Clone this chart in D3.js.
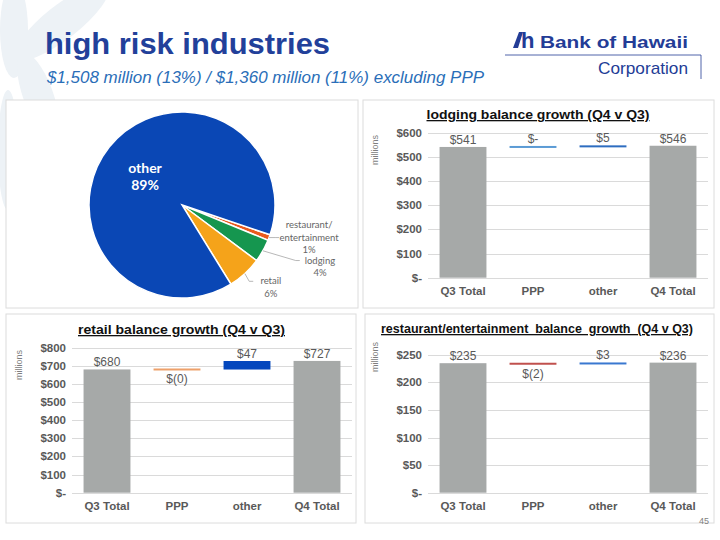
<!DOCTYPE html>
<html>
<head>
<meta charset="utf-8">
<script src="https://cdn.jsdelivr.net/npm/d3@7"></script>
<style>
  body { margin: 0; background: #fff; }
  svg { display: block; font-family: "Liberation Sans", Arial, sans-serif; }
</style>
</head>
<body>
<svg id="chart" width="720" height="540"></svg>
<script>
// pie: share of total loans
const pieNames = ['restaurant/entertainment', 'lodging', 'retail', 'other']
const piePct = [1, 4, 6, 89]
const pieColors = ['#EA5A1E', '#15964F', '#F5A31A', '#0A47B5']

// waterfalls ($ millions)
const wfCats = ['Q3 Total', 'PPP', 'other', 'Q4 Total']
const lodgingVals = [541, 0, 5, 546]
const retailVals = [680, -0.4, 47, 727]
const restVals = [235, -2, 3, 236]
const lodgingTicks = [0, 100, 200, 300, 400, 500, 600]
const retailTicks = [0, 100, 200, 300, 400, 500, 600, 700, 800]
const restTicks = [0, 50, 100, 150, 200, 250]

const svg = d3.select('#chart')
const ink = '#595959'

// watermark flower, top left
const petals = [[62, 22, 58, 17, -38], [14, 30, 14, 48, 0], [38, 95, 15, 45, -20], [8, 150, 10, 60, 0]]
svg.selectAll('.petal').data(petals).enter().append('ellipse')
  .attr('cx', d => d[0]).attr('cy', d => d[1])
  .attr('rx', d => d[2]).attr('ry', d => d[3])
  .attr('transform', d => `rotate(${d[4]},${d[0]},${d[1]})`)
  .attr('fill', '#EDF2F6')

// header
svg.append('text').attr('x', 45).attr('y', 54)
  .attr('font-size', 29).attr('font-weight', 'bold').attr('fill', '#22409A')
  .attr('textLength', 285).attr('lengthAdjust', 'spacingAndGlyphs')
  .text('high risk industries')
svg.append('text').attr('x', 47).attr('y', 83)
  .attr('font-size', 16.5).attr('font-style', 'italic').attr('fill', '#2A6EB8')
  .attr('textLength', 437).attr('lengthAdjust', 'spacingAndGlyphs')
  .text('$1,508 million (13%) / $1,360 million (11%) excluding PPP')

// logo
const logo = svg.append('g').attr('fill', '#233C96')
logo.append('path').attr('d', 'M513,48 L518,48 L523,32 L519,32 Z')
logo.append('text').attr('x', 521).attr('y', 48).attr('font-size', 22).attr('font-weight', 'bold').text('h')
logo.append('text').attr('x', 540).attr('y', 48).attr('font-size', 17).attr('font-weight', 'bold')
  .attr('textLength', 148).attr('lengthAdjust', 'spacingAndGlyphs').text('Bank of Hawaii')
logo.append('text').attr('x', 598).attr('y', 74).attr('font-size', 17)
  .attr('textLength', 90).attr('lengthAdjust', 'spacingAndGlyphs').text('Corporation')
logo.append('path').attr('d', 'M505,55 H701 V79').attr('fill', 'none').attr('stroke', '#233C96').attr('stroke-width', 0.8)

// panels
const panels = [[6, 100, 352, 208], [363, 100, 351, 208], [6, 314, 350, 209], [365, 314, 349, 209]]
svg.selectAll('.panel').data(panels).enter().append('rect')
  .attr('x', d => d[0]).attr('y', d => d[1]).attr('width', d => d[2]).attr('height', d => d[3])
  .attr('fill', '#fff').attr('stroke', '#DCDCDC')

// ---- pie ----
const cx = 182, cy = 205, r = 93
const deg = Math.PI / 180
const pie = d3.pie().sort(null).startAngle(108.7 * deg).endAngle(108.7 * deg + 2 * Math.PI)
const arcs = pie(piePct)
const arc = d3.arc().innerRadius(0).outerRadius(r)
const pg = svg.append('g').attr('transform', `translate(${cx},${cy})`)
pg.selectAll('path').data(arcs).enter().append('path')
  .attr('d', arc).attr('fill', (d, i) => pieColors[i])
  .attr('stroke', '#fff').attr('stroke-width', 1.5)

// label layout for the small slices: [dx, dy] of label from the edge point
const labelNudge = [[40, 0], [57, 16], [26, 14]]
const edge = d => {
  const a = (d.startAngle + d.endAngle) / 2
  return [r * Math.sin(a), -r * Math.cos(a)]
}
arcs.forEach((d, i) => {
  const name = pieNames[i]
  const pct = piePct[i] + '%'
  if (name === 'other') {
    pg.append('text').attr('x', -37).attr('y', -32).attr('text-anchor', 'middle')
      .attr('font-family', 'Lato, sans-serif').attr('font-weight', 'bold').attr('font-size', 14)
      .attr('fill', '#fff').text(name)
    pg.append('text').attr('x', -37).attr('y', -15).attr('text-anchor', 'middle')
      .attr('font-family', 'Lato, sans-serif').attr('font-weight', 'bold').attr('font-size', 14)
      .attr('fill', '#fff').text(pct)
    return
  }
  const p = edge(d)
  const lx = p[0] + labelNudge[i][0]
  const ly = p[1] + labelNudge[i][1]
  const lines = name.includes('/') ? [name.split('/')[0] + '/', name.split('/')[1], pct] : [name, pct]
  const top = ly - (lines.length - 1) * 12.5 / 2
  const t = pg.append('text').attr('text-anchor', 'middle')
    .attr('font-family', 'Lato, sans-serif').attr('font-size', 9.5).attr('fill', '#666')
  lines.forEach((s, k) => t.append('tspan').attr('x', lx).attr('y', top + k * 12.5 + 3).text(s))
  const endX = lx - (lines.length === 3 ? 30 : lines[0].length * 2.6 + 2)
  const endY = lines.length === 3 ? ly : top
  pg.append('polyline')
    .attr('points', `${p[0]},${p[1]} ${endX - 4},${endY} ${endX},${endY}`)
    .attr('fill', 'none').attr('stroke', '#A6A6A6').attr('stroke-width', 0.8)
})

// ---- waterfalls ----
const fmt = v => v === 0 ? '$-' : v < 0 ? `$(${Math.round(-v)})` : `$${Math.round(v)}`

function waterfall (cfg) {
  const g = svg.append('g')
  const x = d3.scaleBand().domain(wfCats).range([cfg.left, cfg.right])
    .paddingInner(0.33).paddingOuter(0.165)
  const y = d3.scaleLinear().domain([0, cfg.max]).range([cfg.bottom, cfg.top])

  g.append('text').attr('x', cfg.titleX).attr('y', cfg.titleY).attr('text-anchor', 'middle')
    .attr('font-size', 13).attr('font-weight', 'bold').attr('fill', '#111')
    .attr('text-decoration', 'underline').style('white-space', 'pre')
    .attr('textLength', cfg.titleW).attr('lengthAdjust', 'spacingAndGlyphs')
    .text(cfg.title)

  g.selectAll('.grid').data(cfg.ticks).enter().append('line')
    .attr('x1', cfg.left).attr('x2', cfg.right)
    .attr('y1', d => Math.round(y(d)) + 0.5).attr('y2', d => Math.round(y(d)) + 0.5)
    .attr('stroke', '#DADADA')

  g.selectAll('.tick').data(cfg.ticks).enter().append('text')
    .attr('x', cfg.left - 6).attr('y', d => y(d) + 4).attr('text-anchor', 'end')
    .attr('font-size', 11.5).attr('font-weight', 'bold').attr('fill', ink)
    .text(d => d === 0 ? '$-' : '$' + d)

  g.append('text').attr('transform', `translate(${cfg.left - 50},${cfg.unitY}) rotate(-90)`)
    .attr('text-anchor', 'middle').attr('font-size', 9).attr('fill', '#7F7F7F').text('millions')

  g.selectAll('.xl').data(wfCats).enter().append('text')
    .attr('x', d => x(d) + x.bandwidth() / 2).attr('y', cfg.bottom + 17)
    .attr('text-anchor', 'middle').attr('font-size', 11.5).attr('font-weight', 'bold').attr('fill', ink)
    .text(d => d)

  let run = 0
  const last = cfg.vals.length - 1
  const bars = cfg.vals.map((v, i) => {
    if (i === 0 || i === last) {
      run = v
      return { cat: wfCats[i], lo: 0, hi: v, v, color: '#A6A9A8' }
    }
    const from = run
    run += v
    return { cat: wfCats[i], lo: Math.min(from, run), hi: Math.max(from, run), v, color: cfg.colors[i - 1] }
  })
  bars.forEach(b => {
    let top = y(b.hi)
    let h = y(b.lo) - y(b.hi)
    if (h < 2) { top = (y(b.lo) + y(b.hi)) / 2 - 1; h = 2 }
    b.top = top
    b.bot = top + h
  })

  g.selectAll('.bar').data(bars).enter().append('rect')
    .attr('x', d => x(d.cat)).attr('width', x.bandwidth())
    .attr('y', d => d.top).attr('height', d => d.bot - d.top)
    .attr('fill', d => d.color)

  g.selectAll('.val').data(bars).enter().append('text')
    .attr('x', d => x(d.cat) + x.bandwidth() / 2)
    .attr('y', d => d.v < 0 ? d.bot + 13 : d.top - 3)
    .attr('text-anchor', 'middle').attr('font-size', 12).attr('fill', ink)
    .text(d => fmt(d.v))
}

waterfall({
  title: 'lodging balance growth (Q4 v Q3)', titleX: 538, titleY: 119, titleW: 223,
  vals: lodgingVals, ticks: lodgingTicks, max: 600,
  left: 428, right: 708, bottom: 277.7, top: 132.7, unitY: 150,
  colors: ['#5B9BD5', '#2E6DC0']
})
waterfall({
  title: 'retail balance growth (Q4 v Q3)', titleX: 181.5, titleY: 334, titleW: 207,
  vals: retailVals, ticks: retailTicks, max: 800,
  left: 72, right: 352, bottom: 492.7, top: 347.7, unitY: 365,
  colors: ['#EDA06A', '#0447BD']
})
waterfall({
  title: 'restaurant/entertainment  balance  growth  (Q4 v Q3)', titleX: 537, titleY: 333, titleW: 312,
  vals: restVals, ticks: restTicks, max: 270,
  left: 428, right: 708, bottom: 492.7, top: 343.9, unitY: 357,
  colors: ['#C0504D', '#3A78D0']
})

svg.append('text').attr('x', 709).attr('y', 524).attr('text-anchor', 'end')
  .attr('font-size', 9).attr('fill', '#7F7F7F').text('45')
</script>
</body>
</html>
